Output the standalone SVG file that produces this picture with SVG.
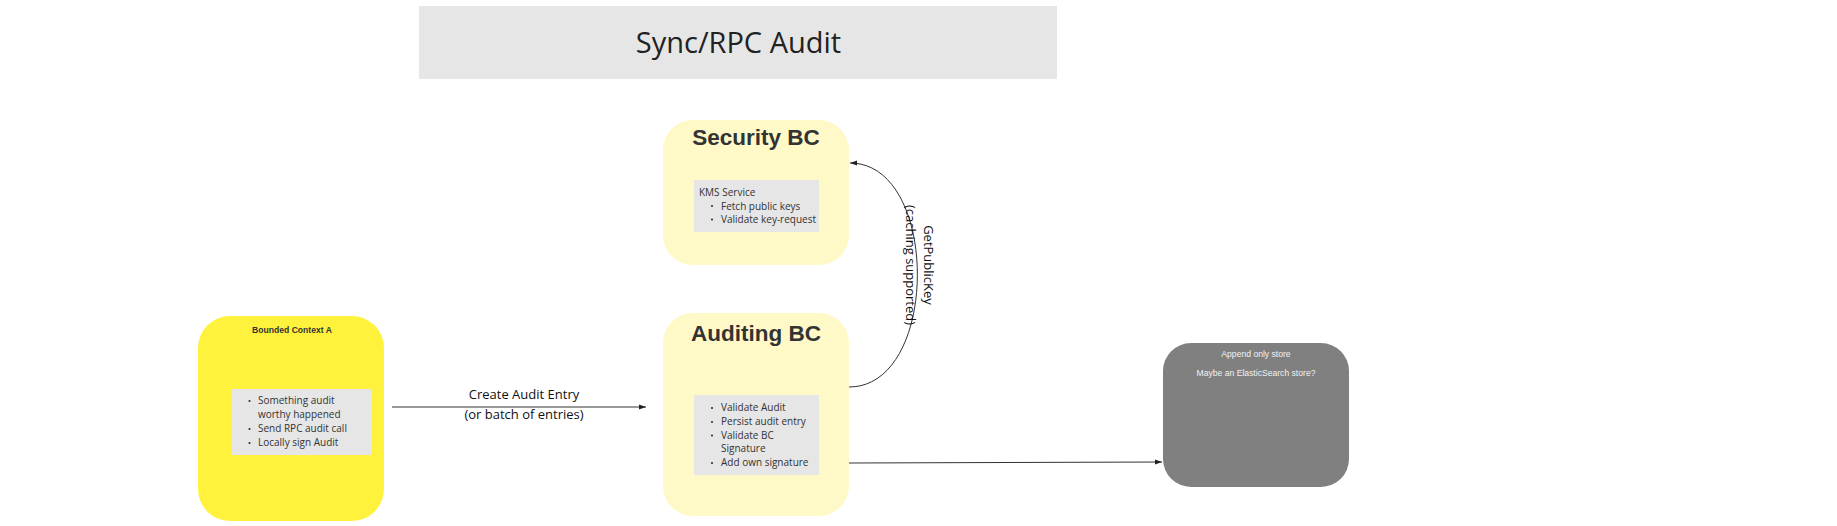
<svg xmlns="http://www.w3.org/2000/svg" width="1837" height="526" viewBox="0 0 1837 526">
<style>
.os{font-family:"Open Sans","DejaVu Sans",sans-serif;}
.ar{font-family:"Liberation Sans",Arial,sans-serif;}
.item{font-size:10px;fill:#333;}
.bc{font-size:22.5px;font-weight:bold;fill:#333;text-anchor:middle;}
.lbl{font-size:13px;fill:#111;text-anchor:middle;}
.con{fill:none;stroke:#333;stroke-width:1;}
.dot{fill:#333;}
.inner{fill:#e6e6e6;}
</style>
<defs>
<marker id="ah" viewBox="0 0 10 10" refX="10" refY="5" markerWidth="7" markerHeight="7" markerUnits="userSpaceOnUse" orient="auto">
<path d="M0,1.5 L10,5 L0,8.5 z" fill="#222"/>
</marker>
</defs>
<rect width="1837" height="526" fill="#fff"/>
<g id="title">
<rect x="419" y="6" width="638" height="73" fill="#e6e6e6"/>
<text class="os" x="738.5" y="53" font-size="29" fill="#222" text-anchor="middle">Sync/RPC Audit</text>
</g>
<g id="bounded-context-a">
<rect x="198" y="316" width="186" height="205" rx="32" fill="#fff23d"/>
<text class="ar" x="292" y="333" font-size="8.6" font-weight="bold" fill="#333" text-anchor="middle">Bounded Context A</text>
<rect class="inner" x="232" y="389" width="140" height="66"/>
<circle class="dot" cx="249.5" cy="401" r="1.1"/>
<circle class="dot" cx="249.5" cy="429" r="1.1"/>
<circle class="dot" cx="249.5" cy="443" r="1.1"/>
<text class="os item" x="258" y="404">Something audit</text>
<text class="os item" x="258" y="418">worthy happened</text>
<text class="os item" x="258" y="432">Send RPC audit call</text>
<text class="os item" x="258" y="446">Locally sign Audit</text>
</g>
<g id="security-bc">
<rect x="663" y="120" width="186" height="145" rx="30" fill="#fff9c7"/>
<text class="ar bc" x="756" y="145">Security BC</text>
<rect class="inner" x="694" y="180" width="125" height="52"/>
<text class="os item" x="699" y="196">KMS Service</text>
<circle class="dot" cx="712" cy="206" r="1.1"/>
<circle class="dot" cx="712" cy="219.5" r="1.1"/>
<text class="os item" x="721" y="209.5">Fetch public keys</text>
<text class="os item" x="721" y="223">Validate key-request</text>
</g>
<g id="auditing-bc">
<rect x="663" y="313" width="186" height="203" rx="30" fill="#fff9c7"/>
<text class="ar bc" x="756" y="341">Auditing BC</text>
<rect class="inner" x="694" y="395" width="125" height="80"/>
<circle class="dot" cx="712" cy="408" r="1.1"/>
<circle class="dot" cx="712" cy="422" r="1.1"/>
<circle class="dot" cx="712" cy="435.5" r="1.1"/>
<circle class="dot" cx="712" cy="463" r="1.1"/>
<text class="os item" x="721" y="411">Validate Audit</text>
<text class="os item" x="721" y="425">Persist audit entry</text>
<text class="os item" x="721" y="438.5">Validate BC</text>
<text class="os item" x="721" y="452">Signature</text>
<text class="os item" x="721" y="466">Add own signature</text>
</g>
<g id="append-only-store">
<rect x="1163" y="343" width="186" height="144" rx="28" fill="#808080"/>
<text class="ar" x="1256" y="357" font-size="8.6" fill="#f2f2f2" text-anchor="middle">Append only store</text>
<text class="ar" x="1256" y="376" font-size="8.6" fill="#f2f2f2" text-anchor="middle">Maybe an ElasticSearch store?</text>
</g>
<g id="connectors">
<path class="con" d="M392,407 L646,407" marker-end="url(#ah)"/>
<text class="os lbl" x="524" y="399">Create Audit Entry</text>
<text class="os lbl" x="524" y="419">(or batch of entries)</text>
<path class="con" d="M849,387 C940,387 940,163 850,163" marker-end="url(#ah)"/>
<g transform="translate(918,265) rotate(90)">
<text class="os lbl" x="0" y="-5.5">GetPublicKey</text>
<text class="os lbl" x="0" y="12">(caching supported)</text>
</g>
<path class="con" d="M849,463 L1162,462" marker-end="url(#ah)"/>
</g>
</svg>
